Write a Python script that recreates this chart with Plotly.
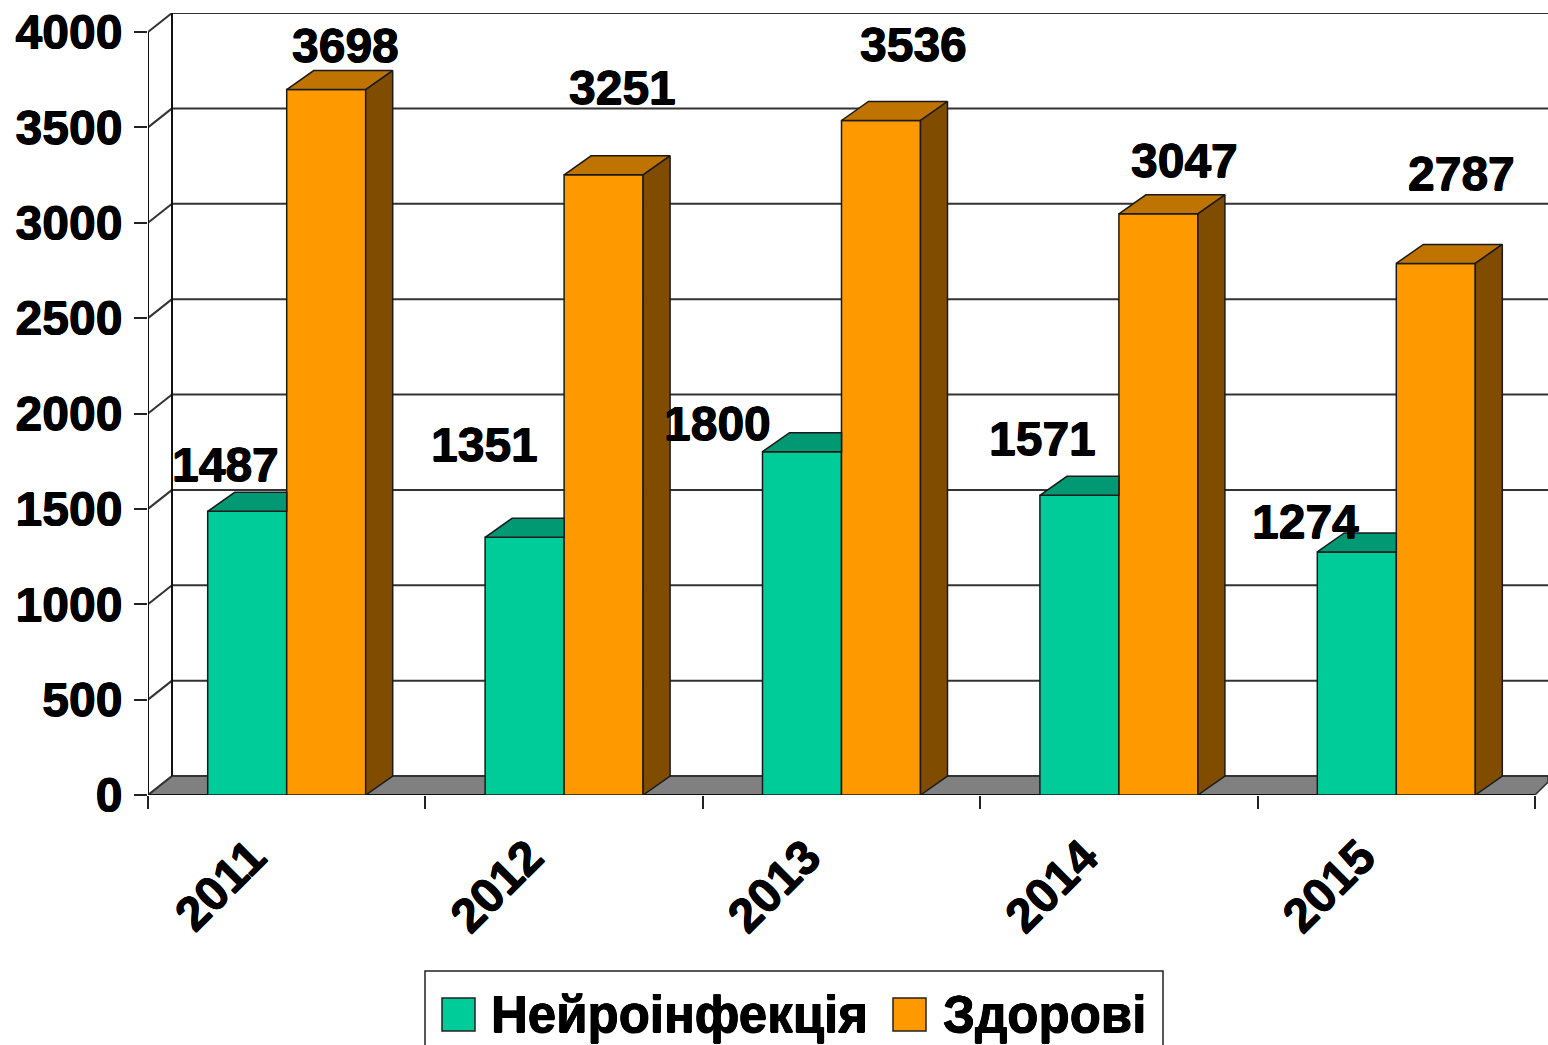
import plotly.graph_objects as go

# ---- data ----
years = ["2011", "2012", "2013", "2014", "2015"]
neuro = [1487, 1351, 1800, 1571, 1274]
healthy = [3698, 3251, 3536, 3047, 2787]
y_ticks = [0, 500, 1000, 1500, 2000, 2500, 3000, 3500, 4000]
series_names = ["Нейроінфекція", "Здорові"]

# ---- styles / geometry ----
W, H = 1548, 1045
L, R, T, B = 148, 1548, 13, 795
CAT_PX = 277.4
VAL_PX = 763 / 4000
BAR_W = 79 / CAT_PX
GREEN, GREEN_TOP = "#00CC99", "#009973"
ORANGE, ORANGE_TOP, ORANGE_SIDE = "#FF9900", "#BF7300", "#804D00"
EDGE = "#1a1a1a"
FONT = "Liberation Sans"
HEAVY = "0.5px 0 0 black, -0.5px 0 0 black, 0 0.5px 0 black, 0 -0.5px 0 black"
WALL_DX = 24 / CAT_PX
BAR_DX = 27 / CAT_PX
DEPTH_Y = 19 / VAL_PX
n = len(years)
x_max = (R - L) / CAT_PX
y_max = (B - T) / VAL_PX
centers = [i + 0.5 for i in range(n)]

# label placement relative to the bar top, in pixels
neuro_lab_dx = [-22, -40, -85, -37, -51]
neuro_lab_dy = [47, 93, 28, 57, 30]
healthy_lab_dx = [19, 19, 32, 26, 26]
healthy_lab_dy = [44, 87, 76, 53, 90]

fig = go.Figure()
fig.add_bar(x=centers, y=neuro, name=series_names[0], showlegend=False,
            marker=dict(color=GREEN, line=dict(color=EDGE, width=1.5)))
fig.add_bar(x=centers, y=healthy, name=series_names[1], showlegend=False,
            marker=dict(color=ORANGE, line=dict(color=EDGE, width=1.5)))


def poly(xs, ys, fill):
    fig.add_scatter(x=xs + xs[:1], y=ys + ys[:1], mode="lines", fill="toself",
                    fillcolor=fill, line=dict(color=EDGE, width=1.5),
                    hoverinfo="skip", showlegend=False)


for c, a, b in zip(centers, neuro, healthy):
    x0, xm, x1 = c - BAR_W, c, c + BAR_W
    # green top face, hidden beyond the orange bar's front
    poly([x0, xm, xm, x0 + BAR_DX], [a, a, a + DEPTH_Y, a + DEPTH_Y], GREEN_TOP)
    # orange top and side faces
    poly([xm, x1, x1 + BAR_DX, xm + BAR_DX], [b, b, b + DEPTH_Y, b + DEPTH_Y], ORANGE_TOP)
    poly([x1, x1 + BAR_DX, x1 + BAR_DX, x1], [0, DEPTH_Y, b + DEPTH_Y, b], ORANGE_SIDE)

shapes = []


def line(x0, y0, x1, y1, color="#333333", width=2, xref="x", yref="y"):
    shapes.append(dict(type="line", x0=x0, y0=y0, x1=x1, y1=y1, xref=xref, yref=yref,
                       layer="below", line=dict(color=color, width=width)))


# floor
shapes.append(dict(type="path", layer="below", xref="x", yref="y",
                   path=f"M0,0 L{WALL_DX},{DEPTH_Y} L{x_max},{DEPTH_Y} L{n + 0.047},{DEPTH_Y*0.68} L{n},0 Z",
                   fillcolor="#808080", line=dict(color="#333333", width=1.5)))
# walls and grid
for v in y_ticks:
    line(0, v, WALL_DX, v + DEPTH_Y)
    line(WALL_DX, v + DEPTH_Y, x_max, v + DEPTH_Y)
line(0, 0, 0, y_ticks[-1], "#111111")
line(WALL_DX, DEPTH_Y, WALL_DX, y_ticks[-1] + DEPTH_Y, "#111111")
line(0, 0, n, 0, "#111111")

annotations = []
for c, vals, dxs, dys, shift in [(centers, neuro, neuro_lab_dx, neuro_lab_dy, -BAR_W / 2),
                                 (centers, healthy, healthy_lab_dx, healthy_lab_dy, BAR_W / 2)]:
    for ci, v, dx, dy in zip(c, vals, dxs, dys):
        annotations.append(dict(x=ci + shift, y=v, text=str(v), showarrow=False,
                                xanchor="center", yanchor="middle", xshift=dx, yshift=dy,
                                font=dict(family=FONT, size=48, color="black", weight="bold",
                                          shadow=HEAVY)))


# hand-built legend, in pixel terms converted to paper fractions
def px_x(p):
    return (p - L) / (R - L)


def px_y(p):
    return (B - p) / (B - T)


shapes.append(dict(type="rect", xref="paper", yref="paper", x0=px_x(425), x1=px_x(1163),
                   y0=px_y(1060), y1=px_y(971), fillcolor="white",
                   line=dict(color="#222222", width=1.5)))
for x0, color in [(442, GREEN), (893, ORANGE)]:
    shapes.append(dict(type="rect", xref="paper", yref="paper", x0=px_x(x0), x1=px_x(x0 + 33),
                       y0=px_y(1031), y1=px_y(998), fillcolor=color,
                       line=dict(color="#222222", width=1.5)))
for x0, name in zip([489, 941], series_names):
    annotations.append(dict(x=px_x(x0), y=px_y(1014), xref="paper", yref="paper", text=name,
                            showarrow=False, xanchor="left", yanchor="middle",
                            font=dict(family=FONT, size=51, color="black", weight="bold",
                                      shadow=HEAVY)))

fig.update_layout(
    width=W, height=H, autosize=False,
    margin=dict(l=L, r=W - R, t=T, b=H - B, pad=0),
    paper_bgcolor="white", plot_bgcolor="white",
    barmode="group", bargap=1 - 2 * BAR_W, bargroupgap=0,
    showlegend=False, shapes=shapes, annotations=annotations,
    xaxis=dict(range=[0, x_max], tickmode="array", tickvals=centers, ticktext=years,
               tickangle=-45, ticks="", showgrid=False, zeroline=False, showline=False,
               automargin=False,
               ticklabelstandoff=23, ticklabelshift=-35, ticklabeloverflow="allow",
               tickfont=dict(family=FONT, size=48, color="black", weight="bold", shadow=HEAVY),
               minor=dict(ticks="outside", tick0=0, dtick=1, ticklen=13, tickwidth=2,
                          tickcolor="#222222", showgrid=False)),
    yaxis=dict(range=[0, y_max], tickmode="array", tickvals=y_ticks, ticks="outside",
               ticklen=13, tickwidth=2, tickcolor="#222222", showgrid=False, zeroline=False,
               automargin=False,
               showline=False, ticklabelstandoff=2, ticklabeloverflow="allow",
               tickfont=dict(family=FONT, size=48, color="black", weight="bold", shadow=HEAVY)),
)
fig.write_html("out.html", config=dict(displayModeBar=False),
               post_script="document.body.style.margin='0';document.documentElement.style.overflow='hidden';")
